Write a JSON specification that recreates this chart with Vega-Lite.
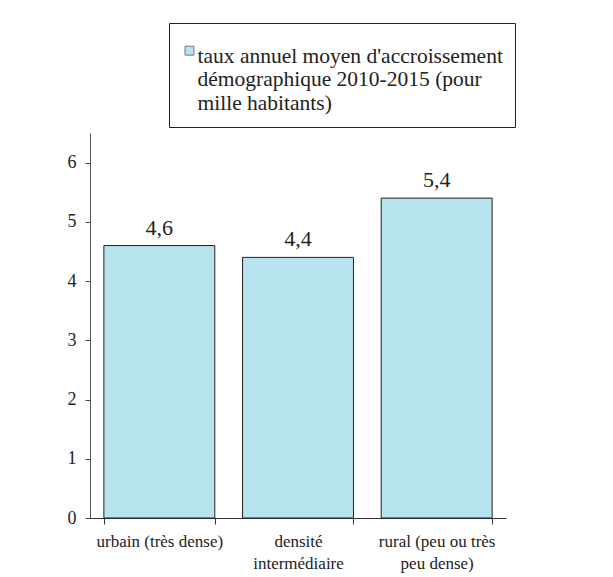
{
  "$schema": "https://vega.github.io/schema/vega-lite/v6.json",
  "width": 416,
  "height": 385,
  "autosize": {"type": "none"},
  "padding": {"left": 90, "top": 133, "right": 107, "bottom": 59},
  "background": "white",
  "config": {
    "view": {"stroke": null},
    "font": "Liberation Serif",
    "locale": {"number": {"decimal": ",", "thousands": " ", "grouping": [3], "currency": ["", " €"]}}
  },
  "data": {
    "values": [
      {"categorie": "urbain (très dense)", "valeur": 4.6, "serie": "taux annuel moyen d'accroissement"},
      {"categorie": "densité intermédiaire", "valeur": 4.4, "serie": "taux annuel moyen d'accroissement"},
      {"categorie": "rural (peu ou très peu dense)", "valeur": 5.4, "serie": "taux annuel moyen d'accroissement"}
    ]
  },
  "encoding": {
    "x": {
      "field": "categorie",
      "type": "nominal",
      "sort": null,
      "scale": {"paddingInner": 0.2, "paddingOuter": 0.1},
      "axis": {
        "title": null,
        "labelAngle": 0,
        "labelFont": "Liberation Serif",
        "labelFontSize": 17,
        "labelColor": "#222",
        "labelPadding": 9,
        "labelLineHeight": 22,
        "labelExpr": "datum.value == 'densité intermédiaire' ? ['densité', 'intermédiaire'] : datum.value == 'rural (peu ou très peu dense)' ? ['rural (peu ou très', 'peu dense)'] : datum.value",
        "tickBand": "extent",
        "tickSize": 6,
        "tickColor": "#333",
        "domainColor": "#333",
        "labelLimit": 0
      }
    },
    "y": {
      "field": "valeur",
      "type": "quantitative",
      "scale": {"domain": [0, 6.5], "nice": false},
      "axis": {
        "title": null,
        "values": [0, 1, 2, 3, 4, 5, 6],
        "grid": false,
        "labelFont": "Liberation Serif",
        "labelFontSize": 18,
        "labelColor": "#222",
        "labelPadding": 9,
        "tickSize": 5,
        "tickColor": "#444",
        "domainColor": "#555",
        "format": "d"
      }
    }
  },
  "layer": [
    {
      "mark": {"type": "bar", "stroke": "#222", "strokeWidth": 1},
      "encoding": {
        "fill": {
          "field": "serie",
          "type": "nominal",
          "scale": {"range": ["#b6e3ee"]},
          "legend": {
            "orient": "none",
            "legendX": 79,
            "legendY": -110,
            "title": null,
            "strokeColor": "#222",
            "padding": 12,
            "symbolType": "M-1.5,0.1H0.5V2.1H-1.5Z",
            "symbolSize": 80,
            "symbolStrokeColor": "#777",
            "symbolStrokeWidth": 1,
            "labelFont": "Liberation Serif",
            "labelFontSize": 21.5,
            "labelColor": "#222",
            "labelLimit": 0,
            "labelOffset": -5,
            "labelLineHeight": 23,
            "labelBaseline": "top",
            "labelExpr": "['taux annuel moyen d\\'accroissement', 'démographique 2010-2015 (pour', 'mille habitants)']"
          }
        }
      }
    },
    {
      "mark": {"type": "text", "dy": -18, "fontSize": 22, "font": "Liberation Serif", "color": "#222"},
      "encoding": {
        "text": {"field": "valeur", "type": "quantitative", "format": ".1f"}
      }
    }
  ]
}
